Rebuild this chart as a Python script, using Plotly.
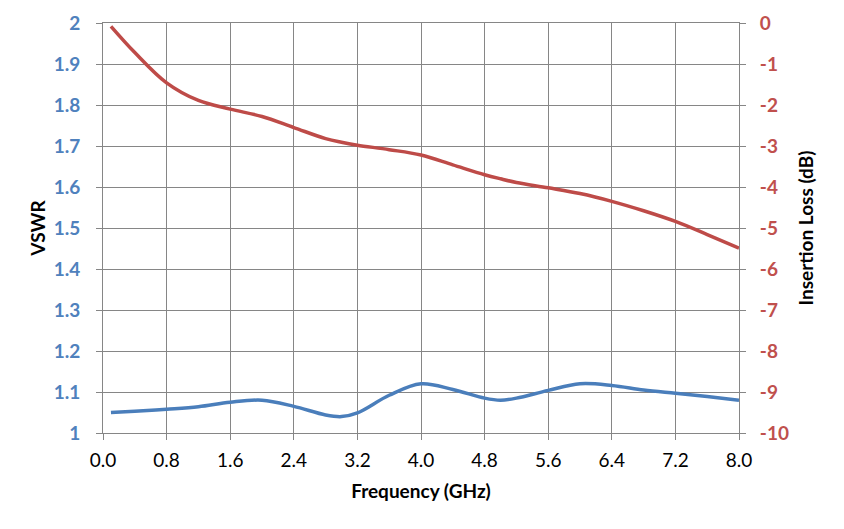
import plotly.graph_objects as go

# frequency points (GHz)
freq = [0.1, 0.4, 0.8, 1.2, 1.6, 2.0, 2.4, 2.8, 3.0, 3.2, 3.6, 4.0, 4.4, 4.8, 5.0,
        5.2, 5.6, 6.0, 6.4, 6.8, 7.2, 7.6, 8.0]

vswr = [1.050, 1.053, 1.058, 1.064, 1.075, 1.080, 1.065, 1.044, 1.040, 1.049, 1.092,
        1.120, 1.106, 1.085, 1.080, 1.085, 1.104, 1.120, 1.116, 1.105, 1.097, 1.089, 1.080]

insertion_loss = [-0.08, -0.72, -1.46, -1.89, -2.10, -2.28, -2.55, -2.82, -2.91, -2.98, -3.09,
                  -3.22, -3.46, -3.70, -3.80, -3.89, -4.02, -4.16, -4.35, -4.58, -4.84, -5.16, -5.49]

x_ticks = [0.0, 0.8, 1.6, 2.4, 3.2, 4.0, 4.8, 5.6, 6.4, 7.2, 8.0]
vswr_ticks = [1, 1.1, 1.2, 1.3, 1.4, 1.5, 1.6, 1.7, 1.8, 1.9, 2]
il_ticks = [0, -1, -2, -3, -4, -5, -6, -7, -8, -9, -10]

BLUE = "#4A7EBB"
RED = "#BE4B48"
GRID = "#868686"
FONT = "Lato"

fig = go.Figure()
fig.add_trace(go.Scatter(x=freq, y=vswr, mode="lines", name="VSWR",
                         line=dict(color=BLUE, width=3.5, shape="spline", smoothing=1.0)))
fig.add_trace(go.Scatter(x=freq, y=insertion_loss, mode="lines", name="Insertion Loss",
                         yaxis="y2",
                         line=dict(color=RED, width=3.5, shape="spline", smoothing=1.0)))

# page body adds an 8px offset, so the figure is 8px smaller than the window
fig.update_layout(
    width=836, height=521,
    margin=dict(l=95, r=105, t=15, b=96),
    paper_bgcolor="white", plot_bgcolor="white",
    showlegend=False,
    font=dict(family=FONT, size=19, color="black"),
    xaxis=dict(
        range=[0, 8], tickvals=x_ticks, ticktext=[f"{v:.1f}" for v in x_ticks],
        showgrid=True, gridcolor=GRID, gridwidth=1,
        showline=True, linecolor=GRID, mirror=True,
        ticks="outside", ticklen=6, tickcolor=GRID, ticklabelstandoff=4,
        tickfont=dict(size=19), automargin=False,
        zeroline=False,
        title=dict(text="<b>Frequency (GHz)</b>", font=dict(size=19), standoff=14),
    ),
    yaxis=dict(
        range=[1, 2], tickvals=vswr_ticks, ticktext=[f"{v:g}" for v in vswr_ticks],
        showgrid=True, gridcolor=GRID, gridwidth=1,
        showline=True, linecolor=GRID, mirror=True,
        ticks="outside", ticklen=6, tickcolor=GRID, ticklabelstandoff=12,
        tickfont=dict(color="#4F81BD", size=19, weight="bold"), automargin=False,
        zeroline=False,
        title=dict(text="<b>VSWR</b>", font=dict(size=19), standoff=2),
    ),
    yaxis2=dict(
        range=[-10, 0], tickvals=il_ticks, ticktext=[str(v) for v in il_ticks],
        overlaying="y", side="right", showgrid=False,
        ticks="outside", ticklen=6, tickcolor=GRID, ticklabelstandoff=10,
        tickfont=dict(color="#C0504D", size=19, weight="bold"), automargin=False,
        zeroline=False,
        title=dict(text="<b>Insertion Loss (dB)</b>", font=dict(size=19), standoff=11),
    ),
)

fig.write_html("out.html")
